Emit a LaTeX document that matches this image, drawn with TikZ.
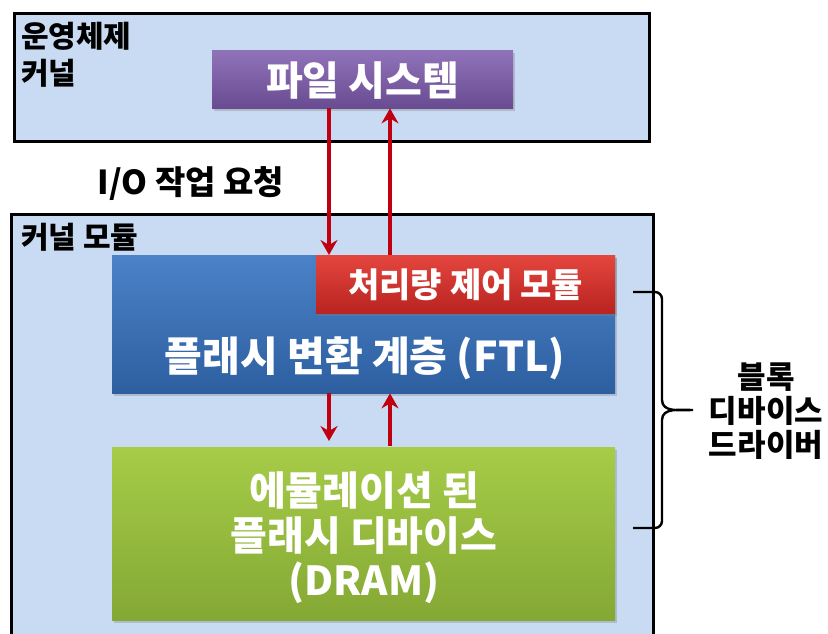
\documentclass[tikz,border=0pt]{standalone}
\usepackage{fontspec}
\setmainfont{Noto Sans CJK KR}
\usetikzlibrary{arrows.meta,shadows,calc}
\definecolor{panel}{HTML}{C9DBF3}
\definecolor{arrred}{HTML}{C00010}
\tikzset{
  panelbox/.style={draw=black, line width=2.6pt, fill=panel, anchor=north west, inner sep=0pt},
  block/.style={anchor=north west, inner sep=0pt, draw=none,
     drop shadow={opacity=0.35, shadow xshift=2pt, shadow yshift=-3pt}},
  whitetxt/.style={text=white, font=\bfseries, inner sep=0pt},
  blacktxt/.style={text=black, font=\bfseries, inner sep=0pt},
  arr/.style={draw=arrred, line width=3.4pt, -{Stealth[length=15pt,width=17pt,inset=5pt]}},
}
\begin{document}
\begin{tikzpicture}[x=1pt,y=-1pt]
\useasboundingbox (0,0) rectangle (828,634);
\clip (0,0) rectangle (828,634);
\fill[white] (0,0) rectangle (828,634);
% panels
\node[panelbox, minimum width=635pt, minimum height=128pt] (os) at (13,12) {};
\node[panelbox, minimum width=642pt, minimum height=440pt] (km) at (10,213) {};
\node[blacktxt, anchor=north west, align=left, font=\fontsize{30}{37}\selectfont\bfseries] (oslbl) at (21,22) {운영체제\\커널};
\node[blacktxt, anchor=north west, font=\fontsize{30}{33}\selectfont\bfseries] (kmlbl) at (21,223) {커널 모듈};
% file system
\node[block, top color={rgb,255:red,145;green,115;blue,185}, bottom color={rgb,255:red,105;green,75;blue,145},
  minimum width=301pt, minimum height=58pt] (fs) at (212,50) {};
\node[whitetxt, font=\fontsize{40}{44}\selectfont\bfseries] (fstxt) at ($(fs.center)+(0,1)$) {파일 시스템};
% I/O label
\node[blacktxt, font=\fontsize{33}{36}\selectfont\bfseries] (io) at (191,184) {I/O 작업 요청};
% FTL
\node[block, top color={rgb,255:red,75;green,130;blue,200}, bottom color={rgb,255:red,45;green,95;blue,160},
  minimum width=503pt, minimum height=138pt] (ftl) at (112,255) {};
\node[whitetxt, font=\fontsize{41}{44}\selectfont\bfseries] (ftltxt) at (365,358) {플래시 변환 계층 (FTL)};
% throughput control
\node[block, top color={rgb,255:red,228;green,70;blue,62}, bottom color={rgb,255:red,185;green,35;blue,32},
  minimum width=299pt, minimum height=58pt] (thr) at (316,255) {};
\node[whitetxt, font=\fontsize{34}{37}\selectfont\bfseries] (thrtxt) at ($(thr.center)+(0,1)$) {처리량 제어 모듈};
% emulated flash
\node[block, top color={rgb,255:red,166;green,204;blue,72}, bottom color={rgb,255:red,132;green,168;blue,52},
  minimum width=503pt, minimum height=173pt] (emu) at (112,447) {};
\node[whitetxt, align=center, font=\fontsize{40}{45}\selectfont\bfseries] (emutxt) at (364,538) {에뮬레이션 된\\플래시 디바이스\\(DRAM)};
% arrows
\coordinate (cd) at (329,0);
\coordinate (cu) at (390,0);
\draw[arr] (fs.south -| cd) -- (thr.north -| cd);
\draw[arr] (thr.north -| cu) -- (fs.south -| cu);
\draw[arr] (ftl.south -| cd) -- ($(emu.north -| cd)+(0,-6)$);
\draw[arr] ($(emu.north -| cu)+(0,-1)$) -- (ftl.south -| cu);
% brace
\coordinate (bt) at (633,292);
\coordinate (bb) at (633,528);
\coordinate (btip) at (693,410);
\draw[line width=2.4pt, line join=round] (bt) -- (655,292) to[out=0,in=90] (662,299) -- (662,400) to[out=-90,in=180] (btip)
  (btip) to[out=180,in=90] (662,420) -- (662,521) to[out=-90,in=0] (655,528) -- (bb);
\node[blacktxt, align=center, font=\fontsize{31}{34}\selectfont\bfseries] (bdd) at (766,411) {블록\\디바이스\\드라이버};
\end{tikzpicture}
\end{document}
